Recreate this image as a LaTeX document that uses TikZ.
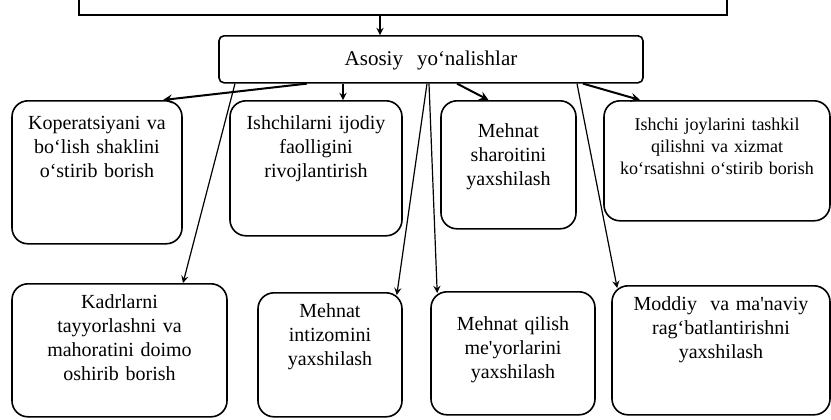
\documentclass[tikz,border=0pt]{standalone}
\usepackage{fontspec}
\setmainfont{Liberation Serif}
\usetikzlibrary{arrows}

\begin{document}
\begin{tikzpicture}[x=0.5pt, y=-0.5pt, >=stealth,
            rbox/.style={draw, rounded corners=8pt, line width=0.8pt, anchor=north, inner sep=0pt, align=center, font=\fontsize{10}{12}\selectfont},
            arr/.style={->, line width=0.6pt},
            arrb/.style={->, line width=1pt}]
            \useasboundingbox (0,0) rectangle (831,419);

            \node[draw, line width=0.9pt, anchor=south, minimum width=324pt, minimum height=30pt] (goal) at (403,16) {};
            \node[rbox, rounded corners=2.5pt, text width=212pt, text height=15pt, text depth=8.5pt, font=\fontsize{10.5}{12}\selectfont] (asos) at (431,35) {Asosiy~ yo‘nalishlar};

            \node[rbox, text width=85pt, text height=14.5pt, text depth=57pt] (kop) at (97,100) {Koperatsiyani va\\ bo‘lish shaklini\\ o‘stirib borish};
            \node[rbox, text width=86pt, text height=14.5pt, text depth=53pt] (ish) at (316,100) {Ishchilarni ijodiy\\ faolligini\\ rivojlantirish};
            \node[rbox, text width=67.5pt, text height=18.5pt, text depth=45.5pt] (msh) at (508.5,100) {Mehnat\\ sharoitini\\ yaxshilash};
            \node[rbox, text width=113pt, text height=15pt, text depth=45pt, font=\fontsize{9}{11}\selectfont] (ij) at (717,100) {Ishchi joylarini tashkil\\ qilishni va xizmat\\ ko‘rsatishni o‘stirib borish};

            \node[rbox, text width=107.5pt, text height=12.5pt, text depth=54pt] (kad) at (119.5,283) {Kadrlarni\\ tayyorlashni va\\ mahoratini doimo\\ oshirib borish};
            \node[rbox, text width=72pt, text height=12.5pt, text depth=49.5pt] (mint) at (330,292) {Mehnat\\ intizomini\\ yaxshilash};
            \node[rbox, text width=82pt, text height=19.5pt, text depth=42pt] (mq) at (513,291) {Mehnat qilish\\ me\textquotesingle yorlarini\\ yaxshilash};
            \node[rbox, text width=109pt, text height=12.5pt, text depth=52pt] (mod) at (721,285) {Moddiy~ va ma\textquotesingle naviy\\ rag‘batlantirishni\\ yaxshilash};

            \draw[arr] ([xshift=-11.5pt]goal.south) -- ([xshift=-25.5pt]asos.north);
            \draw[arrb] ([xshift=-62pt]asos.south) -- ([xshift=33pt]kop.north);
            \draw[arr] ([xshift=-44pt]asos.south) -- ([xshift=13.5pt]ish.north);
            \draw[arrb] ([xshift=13pt]asos.south) -- ([xshift=-10pt]msh.north);
            \draw[arrb] ([xshift=76pt]asos.south) -- ([xshift=-38.5pt]ij.north);
            \draw[arr] ([xshift=-98pt]asos.south) -- ([xshift=31.75pt]kad.north);
            \draw[arr] ([xshift=-2pt]asos.south) -- ([xshift=-3pt,yshift=-1.5pt]mint.north east);
            \draw[arr] ([xshift=-1pt]asos.south) -- ([xshift=3.5pt,yshift=-1pt]mq.north west);
            \draw[arr] ([xshift=73pt]asos.south) -- ([xshift=3pt,yshift=-1.5pt]mod.north west);
        \end{tikzpicture}
\end{document}
